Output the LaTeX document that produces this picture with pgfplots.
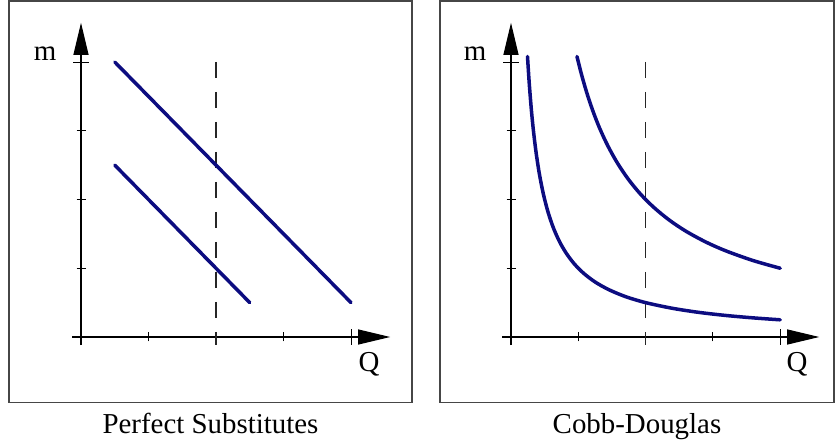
\documentclass[border=0pt]{standalone}
\usepackage{fontspec}
\setmainfont{Liberation Serif}
\usepackage{pgfplots}
\pgfplotsset{compat=1.18}
\usetikzlibrary{arrows.meta}
\definecolor{curveNavy}{RGB}{12,12,128}
\definecolor{frameGray}{RGB}{70,70,70}
\pgfplotsset{
  econ/.style={
    anchor=origin, y=68.75bp,
    xmin=-0.13, xmax=4.58, ymin=-0.12, ymax=4.57,
    axis lines=middle,
    axis line style={line width=1.1bp, black, -{Triangle[length=32bp,width=15bp]}},
    xtick={1,2,3}, ytick={1,2,3}, extra x ticks={4}, extra y ticks={4},
    xticklabels={}, yticklabels={}, extra x tick labels={}, extra y tick labels={},
    tick align=center, major tick length=9bp,
    extra tick style={major tick length=16bp},
    tick style={line width=0.9bp, black},
    clip=false,
  },
  vline/.style={black!85, line width=1.2bp, dash pattern=on 16bp off 14bp},
  curve/.style={curveNavy, line width=3.5bp, line cap=round},
}
\begin{document}
\begin{tikzpicture}[font=\fontsize{29}{34}\selectfont]
\useasboundingbox (0,0) rectangle (835bp,442bp);
\draw[frameGray, line width=1.5bp] (9bp,39.5bp) rectangle (412bp,441bp);
\draw[frameGray, line width=1.5bp] (440bp,39.5bp) rectangle (834bp,441bp);

% perfect substitutes
\begin{axis}[econ, x=67.5bp, at={(81bp,105bp)}]
\addplot[vline] coordinates {(2,4) (2,-0.12)};
\addplot[curve] coordinates {(0.5,4) (4,0.5)};
\addplot[curve] coordinates {(0.5,2.5) (2.5,0.5)};
\end{axis}

% cobb-douglas
\begin{axis}[econ, x=67.3bp, at={(511bp,105bp)}]
\addplot[vline] coordinates {(2,4) (2,-0.12)};
\addplot[curve, smooth] coordinates {
 (0.245,4.08) (0.27,3.704) (0.3,3.333) (0.33,3.03) (0.37,2.703) (0.42,2.381)
 (0.48,2.083) (0.55,1.818) (0.63,1.587) (0.72,1.389) (0.82,1.22) (0.94,1.064)
 (1.08,0.926) (1.25,0.8) (1.45,0.69) (1.7,0.588) (2,0.5) (2.4,0.417)
 (2.8,0.357) (3.2,0.3125) (3.6,0.278) (4,0.25)};
\addplot[curve, smooth] coordinates {
 (0.98,4.08) (1.05,3.81) (1.13,3.54) (1.22,3.279) (1.32,3.03) (1.44,2.778)
 (1.58,2.532) (1.74,2.299) (1.92,2.083) (2.12,1.887) (2.35,1.702) (2.6,1.538)
 (2.9,1.379) (3.2,1.25) (3.6,1.111) (4,1)};
\end{axis}

\node[anchor=base] at (45bp,381bp) {m};
\node[anchor=base] at (475bp,381bp) {m};
\node[anchor=base] at (369bp,70bp) {Q};
\node[anchor=base] at (797bp,70bp) {Q};
\node[anchor=base] at (210.5bp,9bp) {Perfect Substitutes};
\node[anchor=base] at (637bp,9bp) {Cobb-Douglas};
\end{tikzpicture}
\end{document}
